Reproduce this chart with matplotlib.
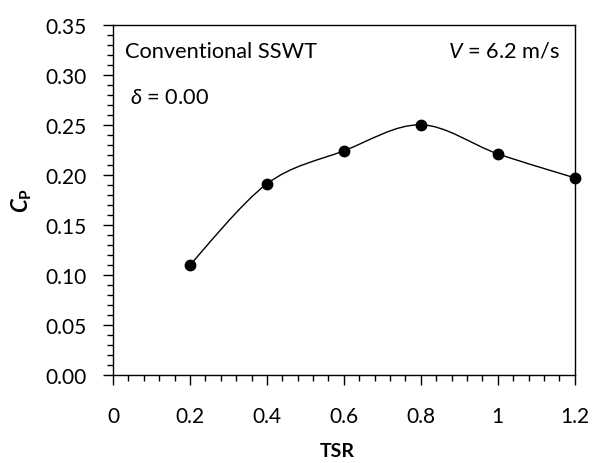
import numpy as np
import matplotlib
matplotlib.use("Agg")
import matplotlib.pyplot as plt
from matplotlib.path import Path
from matplotlib.patches import PathPatch
from matplotlib.ticker import MultipleLocator, FuncFormatter

plt.rcParams['font.family'] = ['Lato', 'DejaVu Sans']
plt.rcParams['mathtext.fontset'] = 'custom'
plt.rcParams['mathtext.it'] = 'Lato:italic'
plt.rcParams['mathtext.rm'] = 'Lato'
plt.rcParams['mathtext.bf'] = 'Lato:bold'
plt.rcParams['mathtext.bfit'] = 'Lato:bold:italic'

# Power coefficient vs tip speed ratio
tsr = [0.2, 0.4, 0.6, 0.8, 1.0, 1.2]
cp = [0.110, 0.191, 0.224, 0.250, 0.221, 0.197]

fig = plt.figure(figsize=(5.92, 4.64), dpi=100)
ax = fig.add_axes([113 / 592, 1 - 376 / 464, (574.7 - 113) / 592, (376 - 25.7) / 464])

# Smoothed connecting curve (cubic Bezier segments through the points)
pts = np.column_stack([tsr, cp])
verts = [tuple(pts[0])]
codes = [Path.MOVETO]
n = len(pts)
for i in range(n - 1):
    p0 = pts[i - 1] if i > 0 else pts[i]
    p1 = pts[i]
    p2 = pts[i + 1]
    p3 = pts[i + 2] if i + 2 < n else pts[i + 1]
    c1 = p1 + (p2 - p0) / 6.0
    c2 = p2 - (p3 - p1) / 6.0
    verts += [tuple(c1), tuple(c2), tuple(p2)]
    codes += [Path.CURVE4] * 3
ax.add_patch(PathPatch(Path(verts, codes), facecolor='none', edgecolor='black',
                       lw=1.0, clip_on=False, zorder=2))
ax.plot(tsr, cp, 'o', color='black', markersize=7.5, clip_on=False, zorder=3)

ax.set_xlim(0, 1.2)
ax.set_ylim(0, 0.35)
ax.xaxis.set_major_locator(MultipleLocator(0.2))
ax.xaxis.set_minor_locator(MultipleLocator(0.04))
ax.yaxis.set_major_locator(MultipleLocator(0.05))
ax.yaxis.set_minor_locator(MultipleLocator(0.01))
ax.xaxis.set_major_formatter(FuncFormatter(lambda v, p: f"{v:g}"))
ax.yaxis.set_major_formatter(FuncFormatter(lambda v, p: f"{v:.2f}"))
ax.tick_params(axis='both', which='major', direction='out', length=7, width=1.0,
               labelsize=15, colors='black')
ax.tick_params(axis='both', which='minor', direction='out', length=4, width=1.0)
ax.tick_params(axis='x', which='major', pad=15)
ax.tick_params(axis='y', which='major', pad=12)
for s in ax.spines.values():
    s.set_linewidth(1.0)

fig.text(337 / 592, 1 - 452 / 464, 'TSR', fontsize=14, fontweight='bold',
         ha='center', va='center')
ax.set_ylabel(r'$\boldsymbol{C}_\mathbf{P}$', fontsize=16, labelpad=8)

ax.text(0.027, 0.925, 'Conventional SSWT', transform=ax.transAxes, fontsize=15.7,
        ha='left', va='center')
ax.text(0.037, 0.795, r'$\it{\delta}$ = 0.00', transform=ax.transAxes, fontsize=15.7,
        ha='left', va='center')
ax.text(0.968, 0.925, r'$\it{V}$ = 6.2 m/s', transform=ax.transAxes, fontsize=15.7,
        ha='right', va='center')

fig.savefig('out.png', dpi=100)
